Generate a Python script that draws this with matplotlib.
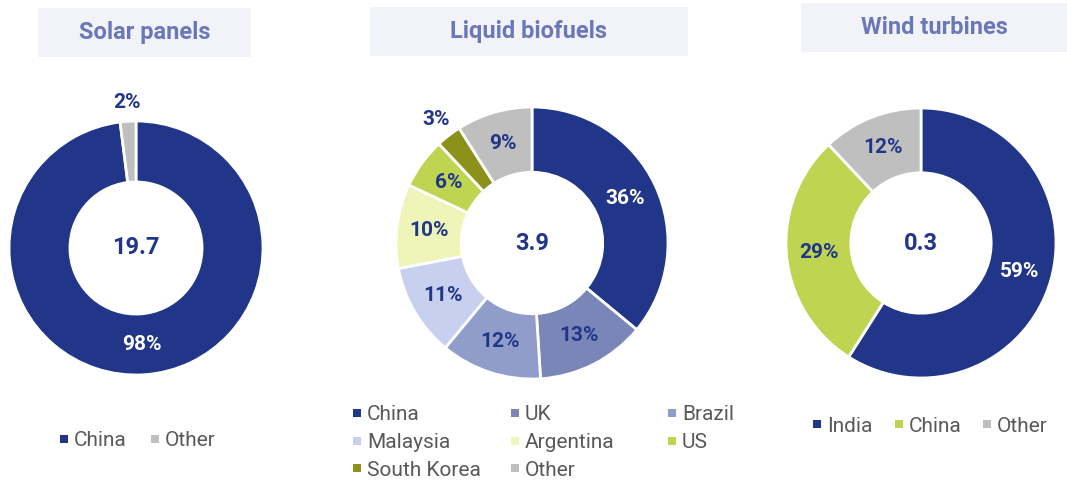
import matplotlib
matplotlib.use("Agg")
import matplotlib.pyplot as plt
from matplotlib.patches import Rectangle

plt.rcParams['font.family'] = ['Roboto', 'DejaVu Sans']

# data
solar_labels = ['China', 'Other']
solar_values = [98, 2]
solar_total = '19.7'

bio_labels = ['China', 'UK', 'Brazil', 'Malaysia', 'Argentina', 'US', 'South Korea', 'Other']
bio_values = [36, 13, 12, 11, 10, 6, 3, 9]
bio_total = '3.9'

wind_labels = ['India', 'China', 'Other']
wind_values = [59, 29, 12]
wind_total = '0.3'

NAVY = '#223689'
GREY = '#BFBFBF'
solar_colors = [NAVY, GREY]
bio_colors = [NAVY, '#7B86B8', '#909DCB', '#C7D0EE', '#EFF4B8', '#BFD451', '#8C9219', GREY]
wind_colors = [NAVY, '#BFD451', GREY]

TITLE_BG = '#F2F3F9'
TITLE_FG = '#6A78B8'
LEGEND_FG = '#595959'

W, H = 1067, 482
fig = plt.figure(figsize=(W / 100, H / 100), dpi=100)


def fx(x):
    return x / W


def fy(y):
    return 1 - y / H


def title_box(text, x0, x1, y0, y1):
    fig.add_artist(Rectangle((fx(x0), fy(y1)), fx(x1) - fx(x0), fy(y0) - fy(y1),
                             transform=fig.transFigure, facecolor=TITLE_BG,
                             edgecolor='none'))
    fig.text(fx((x0 + x1) / 2), fy((y0 + y1) / 2), text, ha='center', va='center',
             fontsize=17, fontweight='bold', color=TITLE_FG)


def donut(values, colors, total, cx, cy, r, outside=()):
    half = 165
    ax = fig.add_axes([fx(cx - half), fy(cy + half), 2 * half / W, 2 * half / H])
    wedges, texts, autotexts = ax.pie(
        values, colors=colors, startangle=90,
        counterclock=False, autopct='%.0f%%', pctdistance=0.76,
        wedgeprops=dict(width=0.48, edgecolor='white', linewidth=2),
        textprops=dict(fontsize=15, fontweight='bold', color=NAVY))
    lim = half / r
    ax.set_xlim(-lim, lim)
    ax.set_ylim(-lim, lim)
    # first slice is navy -> white label
    autotexts[0].set_color('white')
    for i in outside:
        t = autotexts[i]
        x, y = t.get_position()
        k = 1.15 / 0.76
        t.set_position((x * k, y * k))
    ax.text(0, 0, total, ha='center', va='center', fontsize=17,
            fontweight='bold', color=NAVY)


def legend(labels, colors, xs, ys):
    for lab, c, x, y in zip(labels, colors, xs, ys):
        fig.add_artist(Rectangle((fx(x), fy(y + 4)), 8 / W, 8 / H,
                                 transform=fig.transFigure,
                                 facecolor=c, edgecolor='none'))
        fig.text(fx(x + 14), fy(y), lab, ha='left', va='center_baseline',
                 fontsize=15, color=LEGEND_FG)


# Solar panels
title_box('Solar panels', 38, 251, 8, 57)
donut(solar_values, solar_colors, solar_total, 136, 248, 127, outside=(1,))
legend(solar_labels, solar_colors, [60, 151], [439, 439])

# Liquid biofuels
title_box('Liquid biofuels', 370, 688, 7, 56)
donut(bio_values, bio_colors, bio_total, 532, 243, 136, outside=(6,))
legend(bio_labels, bio_colors,
       [353 + 157.5 * (i % 3) for i in range(len(bio_labels))],
       [413 + 27.5 * (i // 3) for i in range(len(bio_labels))])

# Wind turbines
title_box('Wind turbines', 801, 1067, 3, 52)
donut(wind_values, wind_colors, wind_total, 921, 243, 135)
legend(wind_labels, wind_colors, [813, 895, 983], [424, 424, 424])

fig.savefig('out.png', dpi=100)
